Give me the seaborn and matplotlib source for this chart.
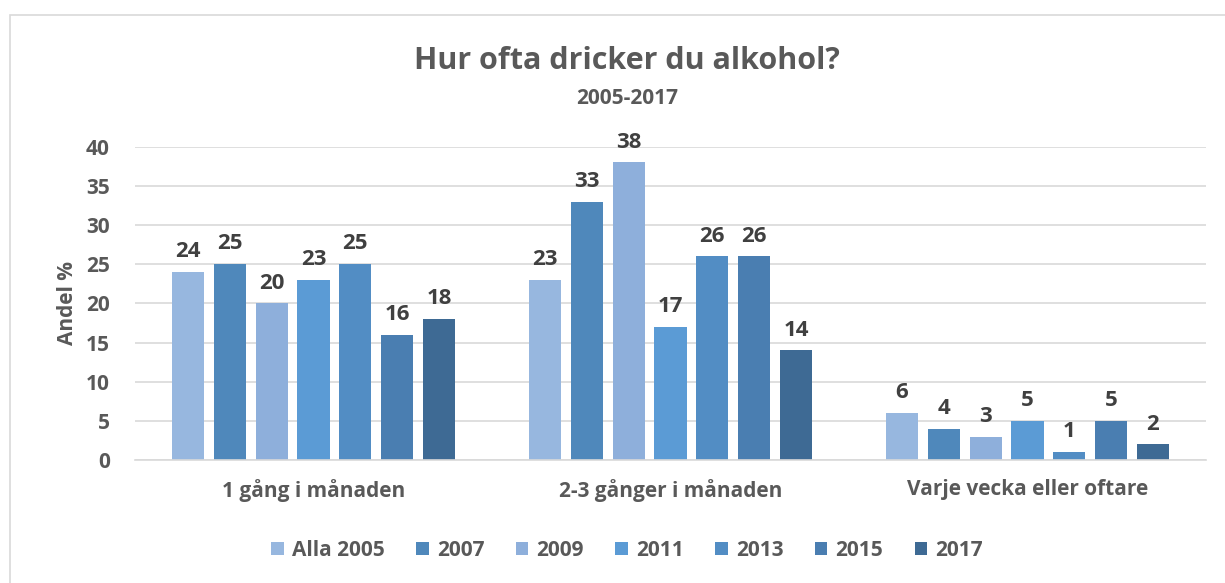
import matplotlib
matplotlib.use("Agg")
import matplotlib.pyplot as plt
import seaborn as sns
import pandas as pd
from matplotlib.patches import Rectangle

# data
categories = ["1 gång i månaden", "2-3 gånger i månaden", "Varje vecka eller oftare"]
years = ["Alla 2005", "2007", "2009", "2011", "2013", "2015", "2017"]
values = {
    "Alla 2005": [24, 23, 6],
    "2007": [25, 33, 4],
    "2009": [20, 38, 3],
    "2011": [23, 17, 5],
    "2013": [25, 26, 1],
    "2015": [16, 26, 5],
    "2017": [18, 14, 2],
}
colors = ["#97B7DF", "#4F88BB", "#8EAFDB", "#5B9BD5", "#528DC4", "#4A7EB1", "#3E6A94"]

rows = []
for y in years:
    for c, v in zip(categories, values[y]):
        rows.append({"kategori": c, "år": y, "andel": v})
df = pd.DataFrame(rows)

sns.set_style("white")
plt.rcParams["font.family"] = ["Open Sans", "DejaVu Sans"]
plt.rcParams["font.weight"] = "bold"

fig = plt.figure(figsize=(12.25, 5.83), dpi=100)
# ram runt diagrammet
fig.patches.append(Rectangle((10 / 1225, -0.1), 1.2, 1 - 15 / 583 + 0.1,
                             transform=fig.transFigure, fill=False,
                             edgecolor="#D9D9D9", linewidth=1.2))

ax = fig.add_axes([135 / 1225, 1 - 460 / 583, 1071 / 1225, (460 - 146.7) / 583])
sns.barplot(data=df, x="kategori", y="andel", hue="år", palette=colors,
            width=0.82, gap=0.23, ax=ax, legend=True, saturation=1, linewidth=0)

ax.set_ylim(0, 40)
ax.set_xlim(-0.5, 2.5)
ax.set_yticks(range(0, 41, 5))
ax.grid(axis="y", color="#D9D9D9", linewidth=1.2)
ax.set_axisbelow(True)
for s in ["top", "right", "left"]:
    ax.spines[s].set_visible(False)
ax.spines["bottom"].set_color("#D9D9D9")
ax.spines["bottom"].set_linewidth(1.2)
ax.tick_params(axis="y", length=0, pad=18, labelsize=15, labelcolor="#595959")
ax.tick_params(axis="x", length=0, pad=14, labelsize=15, labelcolor="#595959")
ax.set_xlabel("")
ax.set_ylabel("Andel %", fontsize=15, color="#595959", fontweight="bold", labelpad=6)

for cont in ax.containers:
    ax.bar_label(cont, fmt="%d", padding=7, fontsize=16, color="#404040", fontweight="bold")

fig.text(0.512, 1 - 61 / 583, "Hur ofta dricker du alkohol?", ha="center", va="center",
         fontsize=22, fontweight="bold", color="#595959")
fig.text(0.512, 1 - 99 / 583, "2005-2017", ha="center", va="center",
         fontsize=15, fontweight="bold", color="#595959")

handles, labels = ax.get_legend_handles_labels()
ax.legend(handles, labels, loc="center", bbox_to_anchor=(0.512, 1 - 550 / 583),
          bbox_transform=fig.transFigure, ncol=7, frameon=False,
          prop={"size": 15, "weight": "bold"},
          handlelength=0.6, handleheight=0.6, handletextpad=0.4, columnspacing=1.5,
          labelcolor="#595959")

fig.savefig("out.png", dpi=100)
